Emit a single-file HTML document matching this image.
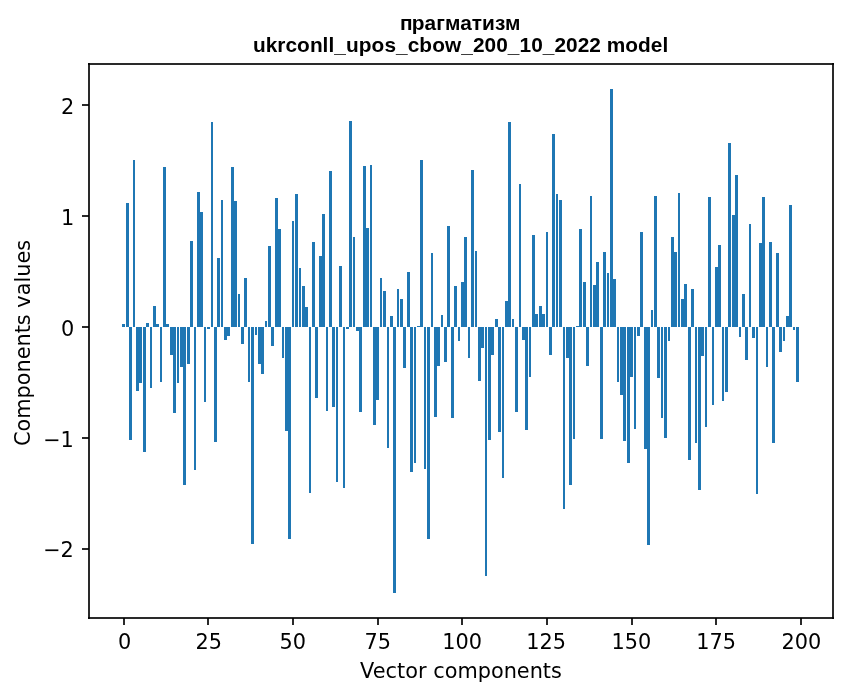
<!DOCTYPE html>
<html lang="uk"><head><meta charset="utf-8"><title>прагматизм</title>
<style>
html,body{margin:0;padding:0;background:#fff;overflow:hidden}
svg{display:block}
text{white-space:pre}
</style></head><body>
<svg width="847" height="696" viewBox="0 0 847 696">
<rect width="847" height="696" fill="#fff"/>
<path fill="#1f77b4" shape-rendering="crispEdges" d="M122 324h3v3h-3zM126 203h3v124h-3zM129 327h3v113h-3zM133 160h2v167h-2zM136 327h3v64h-3zM139 327h3v56h-3zM143 327h3v125h-3zM146 323h3v4h-3zM150 327h2v61h-2zM153 306h3v21h-3zM156 324h3v3h-3zM160 327h2v55h-2zM163 167h3v160h-3zM166 324h3v3h-3zM170 327h3v28h-3zM173 327h3v86h-3zM177 327h2v56h-2zM180 327h3v40h-3zM183 327h3v158h-3zM187 327h3v37h-3zM190 241h3v86h-3zM194 327h2v143h-2zM197 192h3v135h-3zM200 212h3v115h-3zM204 327h2v75h-2zM207 327h3v2h-3zM211 122h2v205h-2zM214 327h3v115h-3zM217 258h3v69h-3zM221 200h2v127h-2zM224 327h3v13h-3zM227 327h3v9h-3zM231 167h3v160h-3zM234 201h3v126h-3zM238 294h2v33h-2zM241 327h3v17h-3zM244 278h3v49h-3zM248 327h2v55h-2zM251 327h3v217h-3zM255 327h2v8h-2zM258 327h3v37h-3zM261 327h3v47h-3zM265 321h2v6h-2zM268 246h3v81h-3zM271 327h3v19h-3zM275 198h3v129h-3zM278 229h3v98h-3zM282 327h2v31h-2zM285 327h3v104h-3zM288 327h3v212h-3zM292 221h2v106h-2zM295 194h3v133h-3zM299 268h2v59h-2zM302 286h3v41h-3zM305 307h3v20h-3zM309 327h2v166h-2zM312 242h3v85h-3zM315 327h3v71h-3zM319 256h3v71h-3zM322 214h3v113h-3zM326 327h2v84h-2zM329 171h3v156h-3zM332 327h3v80h-3zM336 327h2v155h-2zM339 266h3v61h-3zM343 327h2v161h-2zM346 327h3v2h-3zM349 121h3v206h-3zM353 237h2v90h-2zM356 327h3v4h-3zM359 327h3v85h-3zM363 166h3v161h-3zM366 228h3v99h-3zM370 165h2v162h-2zM373 327h3v98h-3zM376 327h3v73h-3zM380 278h2v49h-2zM383 291h3v36h-3zM387 327h2v121h-2zM390 316h3v11h-3zM393 327h3v266h-3zM397 289h2v38h-2zM400 299h3v28h-3zM403 327h3v41h-3zM407 272h3v55h-3zM410 327h3v145h-3zM414 327h2v136h-2zM417 326h3v1h-3zM420 160h3v167h-3zM424 327h2v142h-2zM427 327h3v212h-3zM431 253h2v74h-2zM434 327h3v90h-3zM437 327h3v39h-3zM441 315h2v12h-2zM444 327h3v35h-3zM447 226h3v101h-3zM451 327h3v91h-3zM454 286h3v41h-3zM458 327h2v14h-2zM461 282h3v45h-3zM464 237h3v90h-3zM468 327h2v31h-2zM471 170h3v157h-3zM475 251h2v76h-2zM478 327h3v54h-3zM481 327h3v21h-3zM485 327h2v249h-2zM488 327h3v113h-3zM491 327h3v28h-3zM495 319h3v8h-3zM498 327h3v105h-3zM502 327h2v151h-2zM505 301h3v26h-3zM508 122h3v205h-3zM512 319h2v8h-2zM515 327h3v85h-3zM519 184h2v143h-2zM522 327h3v13h-3zM525 327h3v103h-3zM529 327h2v50h-2zM532 235h3v92h-3zM535 314h3v13h-3zM539 306h3v21h-3zM542 314h3v13h-3zM546 232h2v95h-2zM549 327h3v28h-3zM552 134h3v193h-3zM556 194h2v133h-2zM559 200h3v127h-3zM563 327h2v182h-2zM566 327h3v31h-3zM569 327h3v158h-3zM573 327h2v112h-2zM576 326h3v1h-3zM579 229h3v98h-3zM583 282h3v45h-3zM586 327h3v39h-3zM590 196h2v131h-2zM593 285h3v42h-3zM596 262h3v65h-3zM600 327h3v112h-3zM603 252h3v75h-3zM607 273h2v54h-2zM610 89h3v238h-3zM613 279h3v48h-3zM617 327h2v55h-2zM620 327h3v68h-3zM623 327h3v114h-3zM627 327h3v136h-3zM630 327h3v50h-3zM634 327h2v102h-2zM637 327h3v9h-3zM640 232h3v95h-3zM644 327h3v122h-3zM647 327h3v218h-3zM651 310h2v17h-2zM654 196h3v131h-3zM657 327h3v51h-3zM661 327h2v91h-2zM664 327h3v111h-3zM668 327h2v14h-2zM671 237h3v90h-3zM674 252h3v75h-3zM678 193h2v134h-2zM681 299h3v28h-3zM684 284h3v43h-3zM688 327h3v133h-3zM691 289h3v38h-3zM695 327h2v116h-2zM698 327h3v163h-3zM701 327h3v29h-3zM705 327h2v100h-2zM708 197h3v130h-3zM712 327h2v78h-2zM715 267h3v60h-3zM718 245h3v82h-3zM722 327h2v74h-2zM725 327h3v65h-3zM728 143h3v184h-3zM732 215h3v112h-3zM735 175h3v152h-3zM739 327h2v10h-2zM742 294h3v33h-3zM745 327h3v33h-3zM749 224h2v103h-2zM752 327h3v11h-3zM756 327h2v167h-2zM759 243h3v84h-3zM762 197h3v130h-3zM766 327h2v40h-2zM769 242h3v85h-3zM772 327h3v116h-3zM776 253h3v74h-3zM779 327h3v25h-3zM783 327h2v14h-2zM786 316h3v11h-3zM789 205h3v122h-3zM793 327h2v3h-2zM796 327h3v55h-3z"/>
<path fill="#000" fill-opacity=".8353" shape-rendering="crispEdges" d="M123 618h2v7h-2zM207 618h2v7h-2zM292 618h2v7h-2zM377 618h2v7h-2zM461 618h2v7h-2zM546 618h2v7h-2zM631 618h2v7h-2zM715 618h2v7h-2zM800 618h2v7h-2zM82 548h7v2h-7zM82 437h7v2h-7zM82 326h7v2h-7zM82 215h7v2h-7zM82 104h7v2h-7z"/>
<path fill="#000" fill-opacity=".8353" shape-rendering="crispEdges" d="M88 63h2v556h-2zM832 63h2v556h-2z"/>
<path fill="#000" fill-opacity=".8353" shape-rendering="crispEdges" d="M88 63h746v2h-746zM88 617h746v2h-746z"/>
<g font-family="'DejaVu Sans', 'Liberation Sans', sans-serif" font-size="20.833px" fill="#000"><text x="117.90" y="649">0</text><text x="195.51" y="649">25</text><text x="279.62" y="649">50</text><text x="364.41" y="649">75</text><text x="442.31" y="649">100</text><text x="526.21" y="649">125</text><text x="611.39" y="649">150</text><text x="696.20" y="649">175</text><text x="781.49" y="649">200</text><text x="43.18" y="557">−2</text><text x="43.18" y="447">−1</text><text x="61.02" y="336">0</text><text x="61.12" y="225">1</text><text x="60.93" y="114">2</text><text x="360.04 372.67 385.54 397.04 405.17 417.92 426.54 433.17 444.67 457.42 477.67 490.92 503.67 516.79 529.67 542.79 550.92" y="678">Vector components</text><text transform="translate(29.50 445.95) rotate(-90)" x="0.00 14.50 27.25 47.50 60.75 73.50 86.62 99.50 112.62 120.75 131.62 138.25 150.62 163.38 169.25 182.38 195.25" y="0">Components values</text></g>
<g font-family="'Liberation Sans', sans-serif" font-weight="bold" font-size="20.833px" fill="#000"><text x="399.92 411.67 424.54 436.17 444.92 460.17 471.79 482.04 494.92 504.92" y="30">прагматизм</text><text x="252.92 265.67 277.29 285.42 297.04 309.92 322.54 328.42 334.29 345.92 358.67 371.54 384.42 396.04 407.67 419.29 432.17 445.04 461.29 472.92 484.54 496.17 507.79 519.42 531.17 542.79 554.42 566.04 577.67 589.29 600.92 606.67 625.17 638.04 650.79 662.54" y="52">ukrconll_upos_cbow_200_10_2022 model</text></g>
</svg>
</body></html>
